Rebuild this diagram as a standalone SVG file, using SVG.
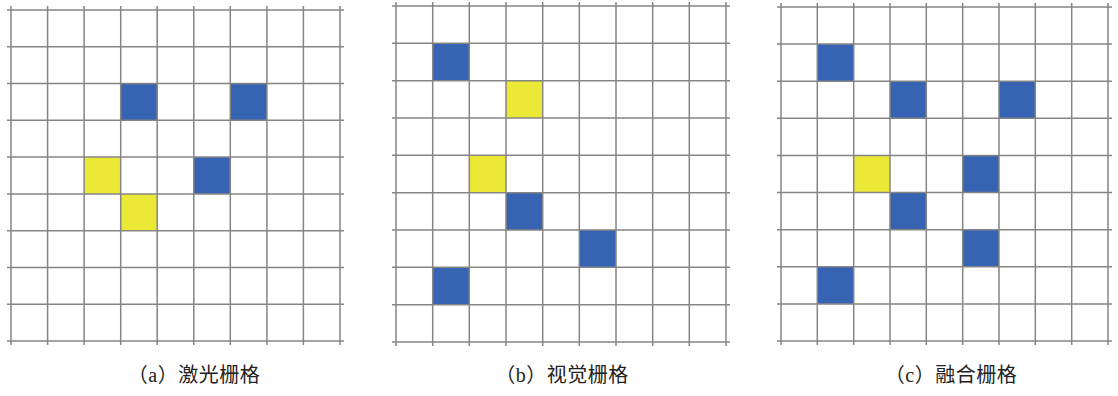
<svg xmlns="http://www.w3.org/2000/svg" width="1118" height="396" viewBox="0 0 1118 396">
<style>
.grid{fill:none;stroke:#858585;stroke-width:1.5}
.b{fill:#3763b3}
.y{fill:#ece836}
.cap{font-family:"Liberation Serif","Noto Sans CJK SC",serif;font-size:20px;fill:#222;text-anchor:middle;letter-spacing:0.5px}
</style>
<rect width="1118" height="396" fill="#fff"/>
<g id="grid-a">
<rect class="b" x="120.7" y="83.6" width="36.6" height="36.8"/>
<rect class="b" x="230.3" y="83.6" width="36.6" height="36.8"/>
<rect class="b" x="193.8" y="157.1" width="36.6" height="36.8"/>
<rect class="y" x="84.1" y="157.1" width="36.6" height="36.8"/>
<rect class="y" x="120.7" y="193.9" width="36.6" height="36.8"/>
<path class="grid" d="M11 6V345M47.6 6V345M84.1 6V345M120.7 6V345M157.2 6V345M193.8 6V345M230.3 6V345M266.9 6V345M303.4 6V345M340 6V345M7 10H344M7 46.8H344M7 83.6H344M7 120.3H344M7 157.1H344M7 193.9H344M7 230.7H344M7 267.4H344M7 304.2H344M7 341H344"/>
<text class="cap" x="194" y="382">（a）激光栅格</text>
</g>
<g id="grid-b">
<rect class="b" x="432.7" y="43.3" width="36.7" height="37.3"/>
<rect class="y" x="506" y="80.7" width="36.7" height="37.3"/>
<rect class="y" x="469.3" y="155.3" width="36.7" height="37.3"/>
<rect class="b" x="506" y="192.7" width="36.7" height="37.3"/>
<rect class="b" x="579.3" y="230" width="36.7" height="37.3"/>
<rect class="b" x="432.7" y="267.3" width="36.7" height="37.3"/>
<path class="grid" d="M396 2V346M432.7 2V346M469.3 2V346M506 2V346M542.7 2V346M579.3 2V346M616 2V346M652.7 2V346M689.3 2V346M726 2V346M392 6H730M392 43.3H730M392 80.7H730M392 118H730M392 155.3H730M392 192.7H730M392 230H730M392 267.3H730M392 304.7H730M392 342H730"/>
<text class="cap" x="562" y="382">（b）视觉栅格</text>
</g>
<g id="grid-c">
<rect class="b" x="817.3" y="44.1" width="36.3" height="37.1"/>
<rect class="b" x="890" y="81.2" width="36.3" height="37.1"/>
<rect class="b" x="999" y="81.2" width="36.3" height="37.1"/>
<rect class="y" x="853.7" y="155.4" width="36.3" height="37.1"/>
<rect class="b" x="962.7" y="155.4" width="36.3" height="37.1"/>
<rect class="b" x="890" y="192.6" width="36.3" height="37.1"/>
<rect class="b" x="962.7" y="229.7" width="36.3" height="37.1"/>
<rect class="b" x="817.3" y="266.8" width="36.3" height="37.1"/>
<path class="grid" d="M781 3V345M817.3 3V345M853.7 3V345M890 3V345M926.3 3V345M962.7 3V345M999 3V345M1035.3 3V345M1071.7 3V345M1108 3V345M777 7H1112M777 44.1H1112M777 81.2H1112M777 118.3H1112M777 155.4H1112M777 192.6H1112M777 229.7H1112M777 266.8H1112M777 303.9H1112M777 341H1112"/>
<text class="cap" x="951" y="382">（c）融合栅格</text>
</g>
</svg>
